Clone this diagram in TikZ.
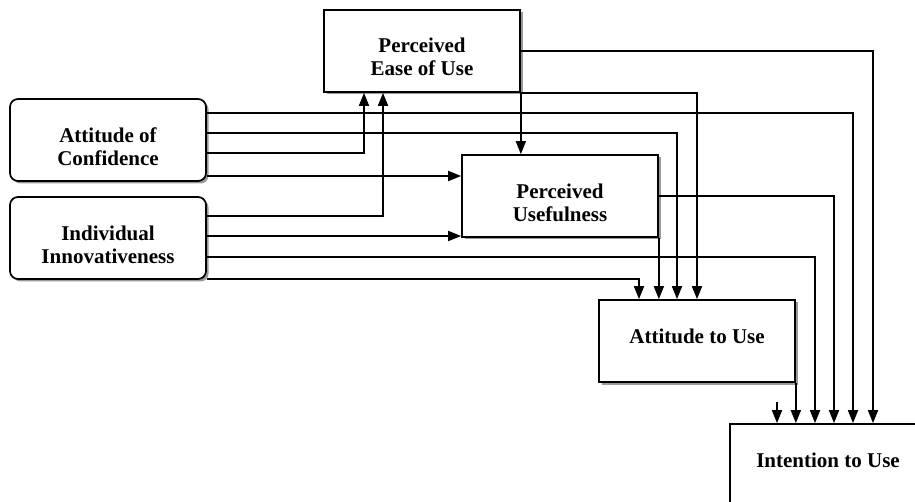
\documentclass[tikz,border=0pt]{standalone}
\usepackage{fontspec}
\setmainfont{Liberation Serif}
\usetikzlibrary{arrows.meta,shadows}
\begin{document}
\begin{tikzpicture}[x=1pt,y=-1pt,
  box/.style={draw, line width=1.7pt, fill=white, minimum width=196pt, minimum height=82pt,
    inner sep=0pt, drop shadow={shadow xshift=2.5pt, shadow yshift=-2.5pt, fill=black!40, opacity=1}},
  rbox/.style={box, rounded corners=8pt},
  txt/.style={font=\fontsize{21}{23}\selectfont\bfseries, align=center},
  conn/.style={line width=1.7pt, -{Triangle[length=13pt,width=10pt]}},
]
\useasboundingbox (0,0) rectangle (915,502);
\fill[white] (0,0) rectangle (915,502);
\clip (0,0) rectangle (915,502);

\node[box, label={[txt,yshift=-6pt]center:Perceived\\Ease of Use}] (pe) at (422,51) {};
\node[rbox, label={[txt,yshift=-7pt]center:Attitude of\\Confidence}] (ac) at (108,140) {};
\node[rbox, label={[txt,yshift=-6.5pt]center:Individual\\Innovativeness}] (ii) at (108,238) {};
\node[box, label={[txt,yshift=-6.5pt]center:Perceived\\Usefulness}] (pu) at (560,196) {};
\node[box, label={[txt,yshift=5pt]center:Attitude to Use}] (au) at (697,341) {};
\node[box, label={[txt,yshift=5pt]center:Intention to Use}] (iu) at (828,465) {};
\coordinate (stub) at (777,402);

% Attitude of Confidence
\draw[conn] (ac.east |- 0,113) -| (iu.north -| 853,0);
\draw[conn] (ac.east |- 0,133) -| (au.north -| 677,0);
\draw[conn] (ac.east |- 0,153) -| (pe.south -| 364,0);
\draw[conn] (ac.east |- 0,176) -- (pu.west |- 0,176);
% Individual Innovativeness
\draw[conn] (ii.east |- 0,216) -| (pe.south -| 383,0);
\draw[conn] (ii.east |- 0,236) -- (pu.west |- 0,236);
\draw[conn] (ii.east |- 0,257) -| (iu.north -| 815,0);
\draw[conn] (ii.east |- 0,279) -| (au.north -| 639,0);
% Perceived Ease of Use
\draw[conn] (pe.east) -| (iu.north -| 873,0);
\draw[conn] (pe.south east) -| (au.north -| 697,0);
\draw[conn] (pe.south east) -- (pu.north -| pe.south east);
% Perceived Usefulness
\draw[conn] (pu.east) -| (iu.north -| 834,0);
\draw[conn] (pu.south east) -- (au.north -| pu.south east);
% Attitude to Use
\draw[conn] (au.south east) -- (iu.north -| au.south east);
\draw[conn] (stub) -- (iu.north -| stub);
\end{tikzpicture}
\end{document}
